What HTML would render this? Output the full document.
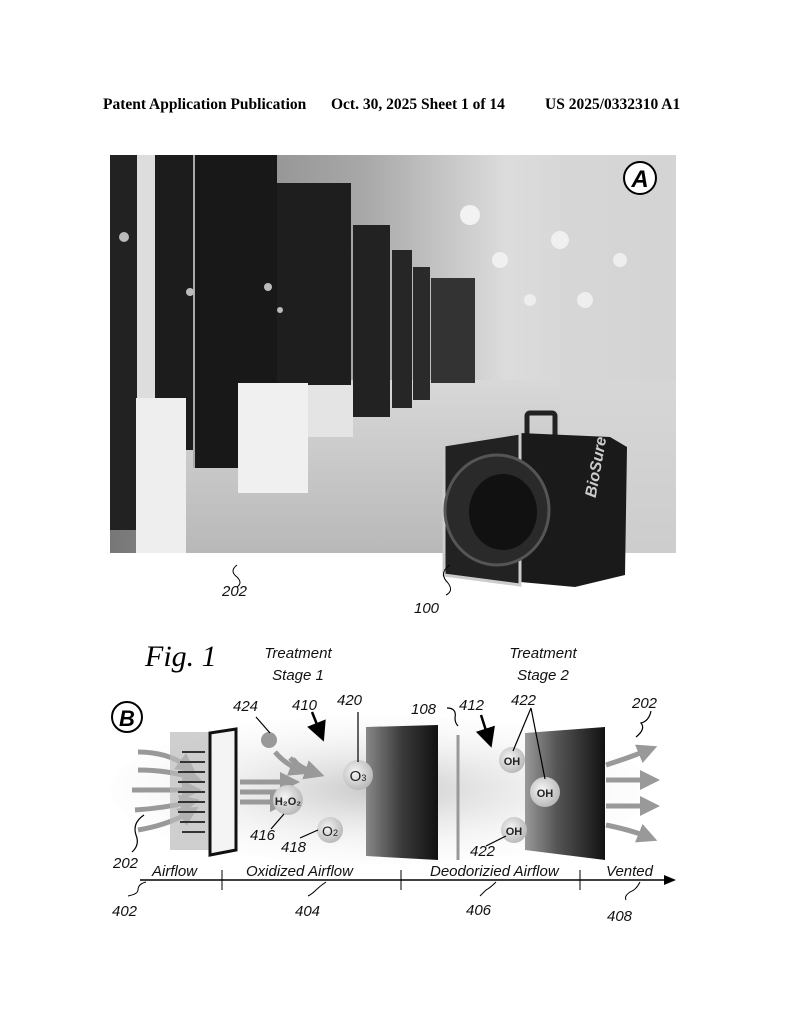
<!DOCTYPE html>
<html><head><meta charset="utf-8"><style>
body{margin:0;background:#fff;width:794px;height:1024px;overflow:hidden}
svg{display:block}
.h{font-family:"Liberation Serif",serif;font-weight:bold;font-size:15.5px}
.l{font-family:"Liberation Sans",sans-serif;font-style:italic;font-size:15px;fill:#111}
.c{font-family:"Liberation Sans",sans-serif;font-weight:bold;font-size:11px;fill:#222}
</style></head><body>
<svg width="794" height="1024" viewBox="0 0 794 1024" xmlns="http://www.w3.org/2000/svg">
<defs>
<linearGradient id="bg" x1="0" x2="1"><stop offset="0" stop-color="#777"/><stop offset="0.45" stop-color="#a8a8a8"/><stop offset="0.7" stop-color="#dcdcdc"/><stop offset="1" stop-color="#cfcfcf"/></linearGradient>
<linearGradient id="fl" x1="0" y1="0" x2="0" y2="1"><stop offset="0" stop-color="#d8d8d8"/><stop offset="1" stop-color="#b8b8b8"/></linearGradient>
<linearGradient id="pn" x1="0" x2="1"><stop offset="0" stop-color="#888"/><stop offset="0.5" stop-color="#3a3a3a"/><stop offset="1" stop-color="#111"/></linearGradient>
<linearGradient id="pn2" x1="0" x2="1"><stop offset="0" stop-color="#999"/><stop offset="0.4" stop-color="#555"/><stop offset="1" stop-color="#111"/></linearGradient>
<radialGradient id="haze" cx="0.5" cy="0.5" r="0.6"><stop offset="0" stop-color="#c8c8c8"/><stop offset="1" stop-color="#fff" stop-opacity="0"/></radialGradient>
<radialGradient id="ball" cx="0.4" cy="0.4" r="0.6"><stop offset="0" stop-color="#f4f4f4"/><stop offset="1" stop-color="#bbb"/></radialGradient>
<marker id="ah" markerWidth="8" markerHeight="8" refX="6" refY="4" orient="auto"><path d="M0,0 L8,4 L0,8z" fill="#000"/></marker>
<marker id="ga" markerWidth="4" markerHeight="4" refX="2" refY="2" orient="auto"><path d="M0,0 L4,2 L0,4z" fill="#999"/></marker>
</defs>
<text x="103" y="109" class="h">Patent Application Publication</text>
<text x="331" y="109" class="h">Oct. 30, 2025  Sheet 1 of 14</text>
<text x="545" y="109" class="h">US 2025/0332310 A1</text>

<rect x="110" y="155" width="566" height="398" fill="url(#bg)"/>
<rect x="180" y="380" width="496" height="173" fill="url(#fl)"/>
<rect x="560" y="155" width="116" height="398" fill="#d6d6d6" opacity="0.7"/>
<circle cx="470" cy="215" r="10" fill="#f2f2f2"/><circle cx="500" cy="260" r="8" fill="#f0f0f0"/><circle cx="560" cy="240" r="9" fill="#f0f0f0"/><circle cx="585" cy="300" r="8" fill="#eee"/><circle cx="530" cy="300" r="6" fill="#eee"/><circle cx="620" cy="260" r="7" fill="#eee"/>
<rect x="110" y="155" width="27" height="375" fill="#222"/>
<rect x="137" y="155" width="18" height="398" fill="#ddd"/>
<rect x="155" y="155" width="39" height="295" fill="#1c1c1c"/>
<rect x="194" y="155" width="83" height="313" fill="#181818"/>
<line x1="194" y1="155" x2="194" y2="468" stroke="#aaa" stroke-width="2"/>
<rect x="277" y="183" width="74" height="254" fill="#1e1e1e"/>
<rect x="353" y="225" width="37" height="192" fill="#222"/>
<rect x="392" y="250" width="20" height="158" fill="#262626"/>
<rect x="413" y="267" width="17" height="133" fill="#2a2a2a"/>
<rect x="431" y="278" width="44" height="105" fill="#333"/>
<rect x="136" y="398" width="50" height="155" fill="#eee"/>
<rect x="238" y="383" width="70" height="110" fill="#f0f0f0"/>
<rect x="308" y="385" width="45" height="52" fill="#e4e4e4"/>
<circle cx="124" cy="237" r="5" fill="#bbb"/><circle cx="190" cy="292" r="4" fill="#bbb"/><circle cx="268" cy="287" r="4" fill="#bbb"/><circle cx="280" cy="310" r="3" fill="#bbb"/>
<rect x="527" y="413" width="28" height="24" fill="none" stroke="#222" stroke-width="5" rx="3"/>
<path d="M444 445 L520 433 L610 437 L627 447 L625 575 L575 587 L444 575z" fill="#1a1a1a"/>
<path d="M444 445 L520 433 L520 585 L444 575z" fill="#222" stroke="#ccc" stroke-width="3"/>
<ellipse cx="497" cy="510" rx="52" ry="55" fill="#2a2a2a" stroke="#555" stroke-width="3"/>
<ellipse cx="503" cy="512" rx="34" ry="38" fill="#111"/>
<text x="583" y="497" font-family="Liberation Sans,sans-serif" font-weight="bold" font-style="italic" font-size="16" fill="#ccc" transform="rotate(-80 590 490)">BioSure</text>
<circle cx="640" cy="178" r="16" fill="#fff" stroke="#000" stroke-width="2"/>
<text x="640" y="187" text-anchor="middle" font-family="Liberation Sans,sans-serif" font-weight="bold" font-style="italic" font-size="24">A</text>
<path d="M237 565 q-8 6 0 12 q6 6 0 10" fill="none" stroke="#000"/>
<text x="222" y="596" class="l">202</text>
<path d="M450 565 q-12 8 -2 18 q6 8 -2 12" fill="none" stroke="#000"/>
<text x="414" y="613" class="l">100</text>

<text x="145" y="666" font-family="Liberation Serif,serif" font-style="italic" font-size="30">Fig. 1</text>
<text x="298" y="658" text-anchor="middle" class="l">Treatment</text>
<text x="298" y="680" text-anchor="middle" class="l">Stage 1</text>
<text x="543" y="658" text-anchor="middle" class="l">Treatment</text>
<text x="543" y="680" text-anchor="middle" class="l">Stage 2</text>

<ellipse cx="380" cy="790" rx="270" ry="75" fill="url(#haze)"/>
<circle cx="127" cy="717" r="15" fill="#fff" stroke="#000" stroke-width="2"/>
<text x="127" y="726" text-anchor="middle" font-family="Liberation Sans,sans-serif" font-weight="bold" font-style="italic" font-size="22">B</text>
<g stroke="#999" stroke-width="5" fill="none" marker-end="url(#ga)">
<path d="M138 752 q30 0 50 15"/><path d="M138 770 q30 0 55 8"/><path d="M132 790 h60"/><path d="M135 810 q30 -2 55 -8"/><path d="M138 830 q30 -5 52 -18"/>
<path d="M240 782 h50"/><path d="M240 792 h50"/><path d="M240 802 h40"/>
<path d="M275 752 q10 12 25 18"/><path d="M290 758 q10 10 25 15"/>
</g>
<rect x="170" y="732" width="40" height="118" fill="#bbb" opacity="0.7"/>
<g stroke="#333" stroke-width="2"><line x1="182" y1="752" x2="205" y2="752"/><line x1="180" y1="762" x2="205" y2="762"/><line x1="178" y1="772" x2="205" y2="772"/><line x1="178" y1="782" x2="205" y2="782"/><line x1="178" y1="792" x2="205" y2="792"/><line x1="178" y1="802" x2="205" y2="802"/><line x1="178" y1="812" x2="205" y2="812"/><line x1="180" y1="822" x2="205" y2="822"/><line x1="182" y1="832" x2="205" y2="832"/></g>
<path d="M210 733 L236 729 L236 850 L210 855z" fill="#f4f4f4" stroke="#111" stroke-width="3"/>
<path d="M366 727 L438 725 L438 860 L366 856z" fill="url(#pn)"/>
<line x1="458" y1="735" x2="458" y2="860" stroke="#999" stroke-width="3"/>
<path d="M525 733 L605 727 L605 860 L525 850z" fill="url(#pn2)"/>
<g stroke="#999" stroke-width="5" fill="none" marker-end="url(#ga)">
<path d="M606 765 q25 -8 42 -15"/><path d="M606 780 h44"/><path d="M606 806 h44"/><path d="M606 825 q25 5 42 12"/>
</g>
<circle cx="269" cy="740" r="8" fill="#999"/>
<circle cx="358" cy="775" r="15" fill="url(#ball)"/><text x="358" y="781" text-anchor="middle" font-family="Liberation Sans,sans-serif" font-size="15" fill="#222">O<tspan font-size="9">3</tspan></text>
<circle cx="288" cy="800" r="15" fill="url(#ball)"/><text x="288" y="805" text-anchor="middle" class="c">H₂O₂</text>
<circle cx="330" cy="830" r="13" fill="url(#ball)"/><text x="330" y="836" text-anchor="middle" font-family="Liberation Sans,sans-serif" font-size="14" fill="#222">O<tspan font-size="9">2</tspan></text>
<circle cx="512" cy="760" r="13" fill="url(#ball)"/><text x="512" y="765" text-anchor="middle" class="c">OH</text>
<circle cx="545" cy="792" r="15" fill="url(#ball)"/><text x="545" y="797" text-anchor="middle" class="c">OH</text>
<circle cx="514" cy="830" r="13" fill="url(#ball)"/><text x="514" y="835" text-anchor="middle" class="c">OH</text>
<g stroke="#000" stroke-width="1.2" fill="none">
<line x1="256" y1="717" x2="270" y2="733"/>
<line x1="312" y1="712" x2="322" y2="737" stroke-width="2.5" marker-end="url(#ah)"/>
<line x1="358" y1="712" x2="358" y2="762"/>
<path d="M447 708 q10 0 8 10 q0 5 3 8"/>
<line x1="481" y1="715" x2="490" y2="743" stroke-width="2.5" marker-end="url(#ah)"/>
<line x1="531" y1="708" x2="513" y2="751"/><line x1="531" y1="708" x2="545" y2="779"/>
<path d="M651 711 q-2 10 -10 12 q5 6 -5 14"/>
<line x1="271" y1="829" x2="284" y2="814"/>
<line x1="300" y1="838" x2="318" y2="830"/>
<line x1="486" y1="846" x2="506" y2="836"/>
<path d="M144 815 q-12 8 -8 20 q4 10 -4 17"/>
</g>
<text x="233" y="711" class="l">424</text>
<text x="292" y="710" class="l">410</text>
<text x="337" y="705" class="l">420</text>
<text x="411" y="714" class="l">108</text>
<text x="459" y="710" class="l">412</text>
<text x="511" y="705" class="l">422</text>
<text x="632" y="708" class="l">202</text>
<text x="250" y="840" class="l">416</text>
<text x="281" y="852" class="l">418</text>
<text x="470" y="856" class="l">422</text>
<text x="113" y="868" class="l">202</text>
<line x1="140" y1="880" x2="668" y2="880" stroke="#000" stroke-width="1.5"/>
<path d="M676 880 L664 875 L664 885z"/>
<g stroke="#000"><line x1="222" y1="870" x2="222" y2="890"/><line x1="401" y1="870" x2="401" y2="890"/><line x1="580" y1="870" x2="580" y2="890"/></g>
<text x="152" y="876" class="l">Airflow</text>
<text x="246" y="876" class="l">Oxidized Airflow</text>
<text x="430" y="876" class="l">Deodorizied Airflow</text>
<text x="606" y="876" class="l">Vented</text>
<g stroke="#000" fill="none"><path d="M146 882 q-8 2 -8 8 q0 4 -10 6"/><path d="M326 882 q-6 4 -10 8 q-4 4 -8 6"/><path d="M496 882 q-6 6 -10 8 q-4 4 -6 6"/><path d="M640 882 q-4 8 -10 10 q-6 4 -4 8"/></g>
<text x="112" y="916" class="l">402</text>
<text x="295" y="916" class="l">404</text>
<text x="466" y="915" class="l">406</text>
<text x="607" y="921" class="l">408</text>
</svg>
</body></html>
